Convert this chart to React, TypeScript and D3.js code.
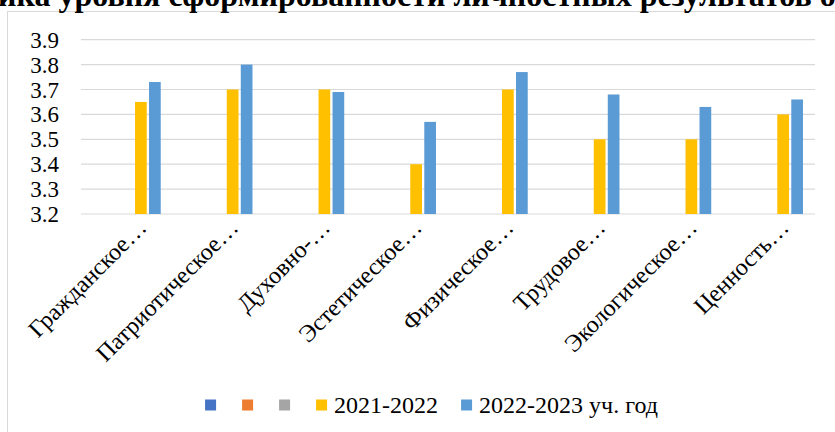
import React, { useEffect, useRef } from "react";
import * as d3 from "d3";

const TITLE = "Динамика уровня сформированности личностных результатов обучающихся";
const categories = [
  "Гражданское…",
  "Патриотическое…",
  "Духовно-…",
  "Эстетическое…",
  "Физическое…",
  "Трудовое…",
  "Экологическое…",
  "Ценность…",
];
const seriesNames = ["", "", "", "2021-2022", "2022-2023 уч. год"];
const seriesColors = ["#4472C4", "#ED7D31", "#A5A5A5", "#FFC000", "#5B9BD5"];
const values2021 = [3.65, 3.7, 3.7, 3.4, 3.7, 3.5, 3.5, 3.6];
const values2022 = [3.73, 3.8, 3.69, 3.57, 3.77, 3.68, 3.63, 3.66];
const emptySeries: (number | null)[] = categories.map(() => null);
const seriesValues: (number | null)[][] = [emptySeries, emptySeries, emptySeries, values2021, values2022];
const yTicks = [3.2, 3.3, 3.4, 3.5, 3.6, 3.7, 3.8, 3.9];

const W = 835;
const H = 432;
const FONT = "'Liberation Serif'";

export default function App() {
  const ref = useRef<SVGSVGElement | null>(null);

  useEffect(() => {
    const svg = d3.select(ref.current);
    svg.selectAll("*").remove();

    svg.append("rect").attr("x", 0).attr("y", 0).attr("width", W).attr("height", H).attr("fill", "#fff");
    svg
      .append("rect")
      .attr("x", 7.5)
      .attr("y", 11.5)
      .attr("width", W + 20)
      .attr("height", H + 20)
      .attr("fill", "#fff")
      .attr("stroke", "#d9d9d9")
      .attr("stroke-width", 1);

    const t = svg
      .append("text")
      .attr("y", 6)
      .style("font-family", FONT)
      .attr("font-weight", "bold")
      .attr("font-size", 32)
      .attr("fill", "#000")
      .text(TITLE);
    const tn = t.node() as SVGTextElement;
    let off = 0;
    try {
      off = tn.getSubStringLength(0, 5);
    } catch (e) {
      off = 90;
    }
    t.attr("x", -off - 2);

    const left = 81,
      right = 815,
      top = 39.7,
      bottom = 214;

    const x = d3.scaleBand<string>().domain(categories).range([left, right]).paddingInner(0.262).paddingOuter(0.131);
    const xs = d3
      .scaleBand<number>()
      .domain(d3.range(seriesNames.length))
      .range([0, x.bandwidth()])
      .paddingInner(0.164);
    const y = d3.scaleLinear().domain([3.2, 3.9]).range([bottom, top]);
    const fmt = d3.format(".1f");

    svg
      .append("g")
      .selectAll("line")
      .data(yTicks)
      .join("line")
      .attr("x1", left)
      .attr("x2", right)
      .attr("y1", (d) => y(d))
      .attr("y2", (d) => y(d))
      .attr("stroke", "#d9d9d9")
      .attr("stroke-width", 1.2);

    svg
      .append("g")
      .selectAll("text")
      .data(yTicks)
      .join("text")
      .attr("x", 59)
      .attr("y", (d) => y(d) + 8)
      .attr("text-anchor", "end")
      .style("font-family", FONT)
      .attr("font-size", 23)
      .attr("fill", "#000")
      .text((d) => fmt(d));

    seriesValues.forEach((vals, si) => {
      svg
        .append("g")
        .selectAll("rect")
        .data(vals.map((v, i) => ({ v, c: categories[i] })).filter((d) => d.v != null))
        .join("rect")
        .attr("x", (d) => (x(d.c) as number) + (xs(si) as number))
        .attr("y", (d) => y(d.v as number))
        .attr("width", xs.bandwidth())
        .attr("height", (d) => bottom - y(d.v as number))
        .attr("fill", seriesColors[si]);
    });

    svg
      .append("g")
      .selectAll("text")
      .data(categories)
      .join("text")
      .attr("transform", (d) => `translate(${(x(d) as number) + x.bandwidth() / 2 + 21},229) rotate(-45)`)
      .attr("text-anchor", "end")
      .style("font-family", FONT)
      .attr("font-size", 24)
      .attr("fill", "#000")
      .text((d) => d);

    const lg = svg.append("g");
    const sq = 11;
    const items: { x: number; i: number }[] = [];
    let cx = 0;
    const widths = seriesNames.map((n) => {
      if (!n) return 0;
      const tmp = svg.append("text").style("font-family", FONT).attr("font-size", 24).text(n);
      const w = (tmp.node() as SVGTextElement).getComputedTextLength();
      tmp.remove();
      return w;
    });
    seriesNames.forEach((n, i) => {
      items.push({ x: cx, i });
      cx += 18 + widths[i] + (widths[i] > 0 ? 23 : 19);
    });
    const total = cx - 23;
    const start = 431.5 - total / 2;
    items.forEach(({ x: ix, i }) => {
      lg.append("rect")
        .attr("x", start + ix)
        .attr("y", 399.5)
        .attr("width", sq)
        .attr("height", sq)
        .attr("fill", seriesColors[i]);
      if (seriesNames[i]) {
        lg.append("text")
          .attr("x", start + ix + 18)
          .attr("y", 412.5)
          .style("font-family", FONT)
          .attr("font-size", 24)
          .attr("fill", "#000")
          .text(seriesNames[i]);
      }
    });
  }, []);

  return (
    <svg
      ref={ref}
      width={W}
      height={H}
      style={{ position: "absolute", left: 0, top: 0, overflow: "hidden", background: "#fff" }}
    />
  );
}
